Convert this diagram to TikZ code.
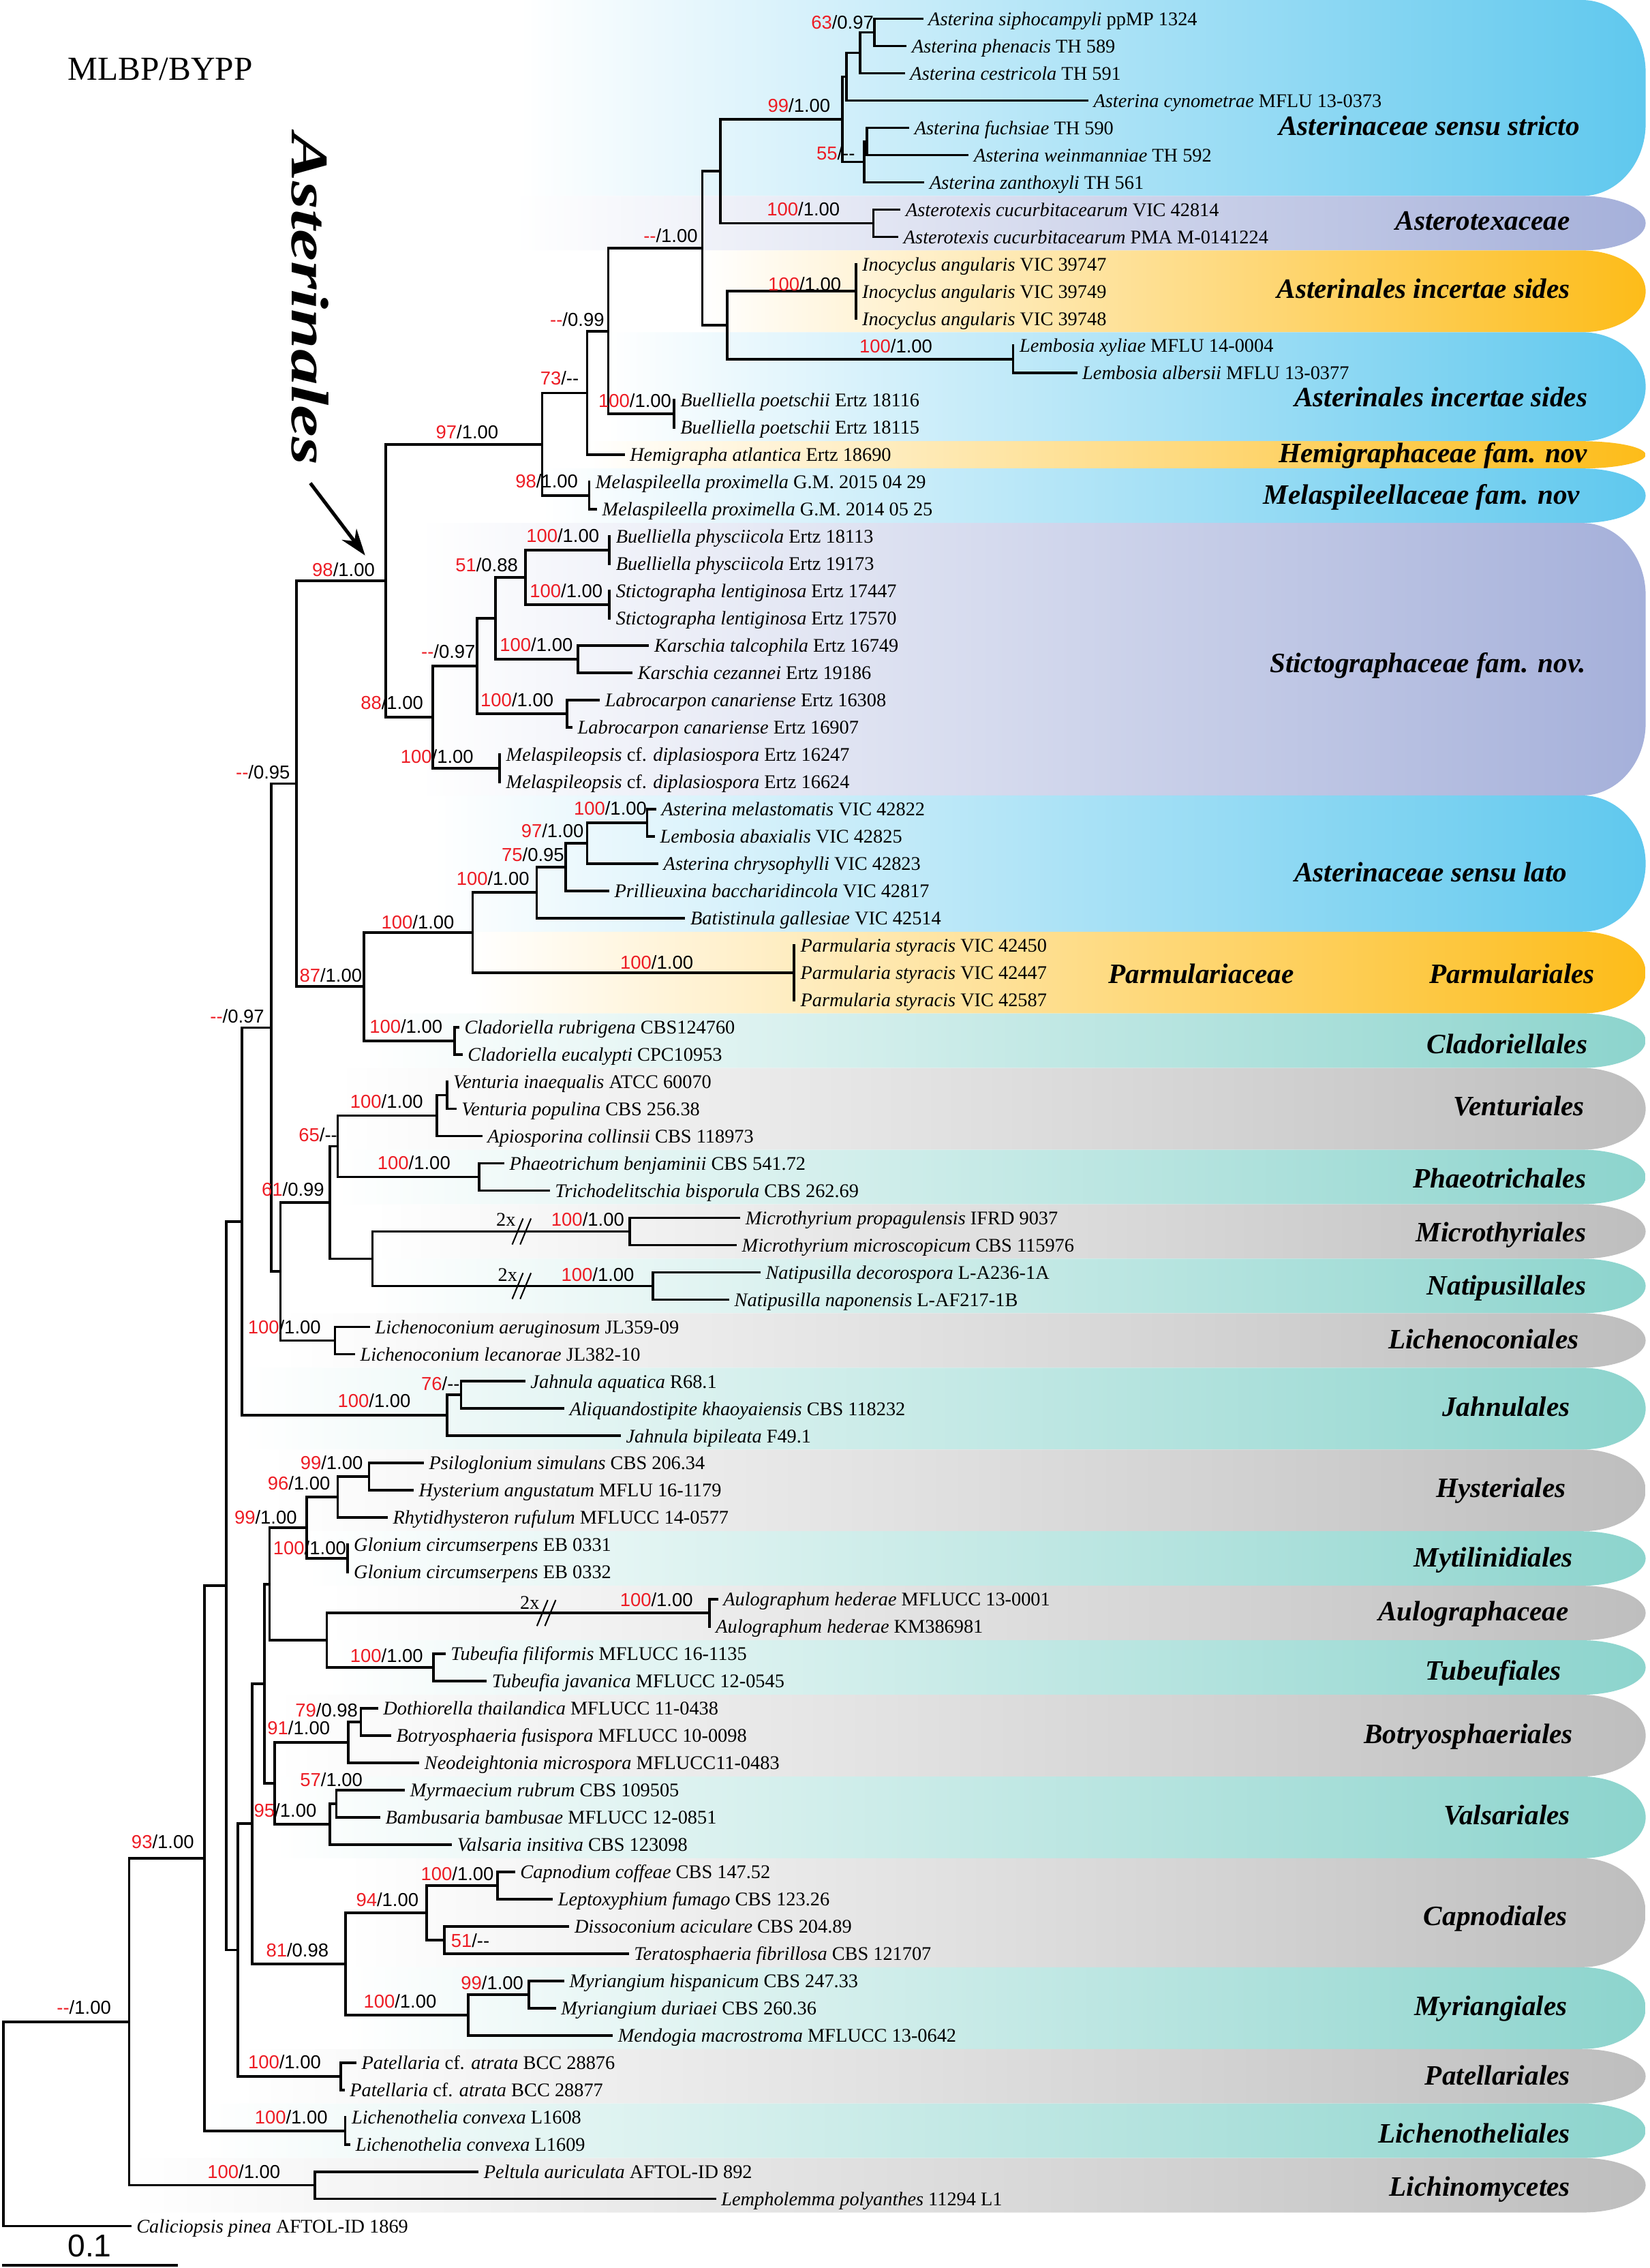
\documentclass[tikz,border=0pt]{standalone}
\usepackage{fontspec}
\setmainfont{Liberation Serif}
\setsansfont{Liberation Sans}
\usetikzlibrary{arrows.meta}

\definecolor{bsred}{HTML}{ED1C24}
\definecolor{bandblue}{HTML}{5FC8EE}
\definecolor{bandlav}{HTML}{A5B0DA}
\definecolor{bandorange}{HTML}{FDBC19}
\definecolor{bandteal}{HTML}{8CD4CD}
\definecolor{bandgrey}{HTML}{BEBEBE}

\begin{document}
\begin{tikzpicture}[x=0.025cm, y=-0.025cm,
  declare function={row(\i)=13+18.84*(\i-1);},
  branch/.style={line width=1.25pt, line cap=rect},
  taxon/.style={anchor=west, inner xsep=3pt, inner ysep=0pt, text height=6.5pt, text depth=0pt, font=\fontsize{9.5}{11}\selectfont},
  bs/.style={anchor=base east, inner sep=0pt, font=\sffamily\fontsize{9.2}{10}\selectfont},
  twox/.style={anchor=base east, inner sep=0pt, font=\fontsize{9.5}{11}\selectfont},
  clade/.style={anchor=east, inner sep=0pt, text height=9pt, text depth=0pt, font=\fontsize{13.8}{15}\selectfont\bfseries\itshape},
  brk/.style={line width=0.7pt}]

\useasboundingbox (0,0) rectangle (1141,1568);

% Clade bands
\foreach \btop/\bbot/\bleft/\bcol in {0.31/7.5/360/bandblue, 7.5/9.5/355/bandlav, 9.5/12.5/485/bandorange,
  12.5/16.5/420/bandblue, 16.5/17.5/406/bandorange, 17.5/19.5/375/bandblue, 19.5/29.5/290/bandlav,
  29.5/34.5/300/bandblue, 34.5/37.5/327/bandorange, 37.5/39.5/252/bandteal, 39.5/42.5/233/bandgrey,
  42.5/44.5/233/bandteal, 44.5/46.5/257/bandgrey, 46.5/48.5/257/bandteal, 48.5/50.5/194/bandgrey,
  50.5/53.5/168/bandteal, 53.5/56.5/186/bandgrey, 56.5/58.5/212/bandteal, 58.5/60.5/226/bandgrey,
  60.5/62.5/226/bandteal, 62.5/65.5/190/bandgrey, 65.5/68.5/190/bandteal, 68.5/72.5/239/bandgrey,
  72.5/75.5/239/bandteal, 75.5/77.5/165/bandgrey, 77.5/79.5/141/bandteal, 79.5/81.5/89/bandgrey}{
  \pgfmathsetmacro\yt{row(\btop)}
  \pgfmathsetmacro\yb{row(\bbot)}
  \pgfmathsetmacro\ry{min(50,(\yb-\yt)/2)}
  \shade[left color=white, right color=\bcol] (\bleft,\yt) -- (1094,\yt)
    .. controls (1118.3,\yt) and (1138,{\yt+0.4477*\ry}) .. (1138,{\yt+\ry}) -- (1138,{\yb-\ry})
    .. controls (1138,{\yb-0.4477*\ry}) and (1118.3,\yb) .. (1094,\yb) -- (\bleft,\yb) -- cycle;
}

% Title
\node[anchor=base west, inner sep=0pt, font=\fontsize{16.5}{18}\selectfont] (title) at (46.7,55.5) {MLBP/BYPP};

% Taxa
\node[taxon] (asiph) at (637.5,{row(1)}) {\textit{Asterina siphocampyli} ppMP 1324};
\node[taxon] (aphen) at (626.1,{row(2)}) {\textit{Asterina phenacis} TH 589};
\node[taxon] (acest) at (624.9,{row(3)}) {\textit{Asterina cestricola} TH 591};
\node[taxon] (acyno) at (751.7,{row(4)}) {\textit{Asterina cynometrae} MFLU 13-0373};
\node[taxon] (afuch) at (627.9,{row(5)}) {\textit{Asterina fuchsiae} TH 590};
\node[taxon] (awein) at (669,{row(6)}) {\textit{Asterina weinmanniae} TH 592};
\node[taxon] (azant) at (638.4,{row(7)}) {\textit{Asterina zanthoxyli} TH 561};
\node[taxon] (atex1) at (621.9,{row(8)}) {\textit{Asterotexis cucurbitacearum} VIC 42814};
\node[taxon] (atex2) at (620.4,{row(9)}) {\textit{Asterotexis cucurbitacearum} PMA M-0141224};
\node[taxon] (ino1) at (591.8,{row(10)}) {\textit{Inocyclus angularis} VIC 39747};
\node[taxon] (ino2) at (591.8,{row(11)}) {\textit{Inocyclus angularis} VIC 39749};
\node[taxon] (ino3) at (591.8,{row(12)}) {\textit{Inocyclus angularis} VIC 39748};
\node[taxon] (lxyl) at (700.6,{row(13)}) {\textit{Lembosia xyliae} MFLU 14-0004};
\node[taxon] (lalb) at (744,{row(14)}) {\textit{Lembosia albersii} MFLU 13-0377};
\node[taxon] (bpoe1) at (466,{row(15)}) {\textit{Buelliella poetschii} Ertz 18116};
\node[taxon] (bpoe2) at (466,{row(16)}) {\textit{Buelliella poetschii} Ertz 18115};
\node[taxon] (hatl) at (431.1,{row(17)}) {\textit{Hemigrapha atlantica} Ertz 18690};
\node[taxon] (mprox1) at (407.4,{row(18)}) {\textit{Melaspileella proximella} G.M. 2015 04 29};
\node[taxon] (mprox2) at (412,{row(19)}) {\textit{Melaspileella proximella} G.M. 2014 05 25};
\node[taxon] (bphy1) at (421.5,{row(20)}) {\textit{Buelliella physciicola} Ertz 18113};
\node[taxon] (bphy2) at (421.5,{row(21)}) {\textit{Buelliella physciicola} Ertz 19173};
\node[taxon] (slen1) at (421.5,{row(22)}) {\textit{Stictographa lentiginosa} Ertz 17447};
\node[taxon] (slen2) at (421.5,{row(23)}) {\textit{Stictographa lentiginosa} Ertz 17570};
\node[taxon] (ktal) at (448,{row(24)}) {\textit{Karschia talcophila} Ertz 16749};
\node[taxon] (kcez) at (436.6,{row(25)}) {\textit{Karschia cezannei} Ertz 19186};
\node[taxon] (lcan1) at (414,{row(26)}) {\textit{Labrocarpon canariense} Ertz 16308};
\node[taxon] (lcan2) at (395,{row(27)}) {\textit{Labrocarpon canariense} Ertz 16907};
\node[taxon] (mdip1) at (345.5,{row(28)}) {\textit{Melaspileopsis} cf. \textit{diplasiospora} Ertz 16247};
\node[taxon] (mdip2) at (345.5,{row(29)}) {\textit{Melaspileopsis} cf. \textit{diplasiospora} Ertz 16624};
\node[taxon] (amel) at (452.9,{row(30)}) {\textit{Asterina melastomatis} VIC 42822};
\node[taxon] (labx) at (452,{row(31)}) {\textit{Lembosia abaxialis} VIC 42825};
\node[taxon] (achr) at (454.4,{row(32)}) {\textit{Asterina chrysophylli} VIC 42823};
\node[taxon] (pbac) at (420.4,{row(33)}) {\textit{Prillieuxina baccharidincola} VIC 42817};
\node[taxon] (bgal) at (473,{row(34)}) {\textit{Batistinula gallesiae} VIC 42514};
\node[taxon] (psty1) at (549.1,{row(35)}) {\textit{Parmularia styracis} VIC 42450};
\node[taxon] (psty2) at (549.1,{row(36)}) {\textit{Parmularia styracis} VIC 42447};
\node[taxon] (psty3) at (549.1,{row(37)}) {\textit{Parmularia styracis} VIC 42587};
\node[taxon] (crub) at (316.7,{row(38)}) {\textit{Cladoriella rubrigena} CBS124760};
\node[taxon] (ceuc) at (319,{row(39)}) {\textit{Cladoriella eucalypti} CPC10953};
\node[taxon] (vina) at (309,{row(40)}) {\textit{Venturia inaequalis} ATCC 60070};
\node[taxon] (vpop) at (314.7,{row(41)}) {\textit{Venturia populina} CBS 256.38};
\node[taxon] (acol) at (332.7,{row(42)}) {\textit{Apiosporina collinsii} CBS 118973};
\node[taxon] (pben) at (347.8,{row(43)}) {\textit{Phaeotrichum benjaminii} CBS 541.72};
\node[taxon] (tbis) at (379.3,{row(44)}) {\textit{Trichodelitschia bisporula} CBS 262.69};
\node[taxon] (mpro) at (511,{row(45)}) {\textit{Microthyrium propagulensis} IFRD 9037};
\node[taxon] (mmic) at (508.6,{row(46)}) {\textit{Microthyrium microscopicum} CBS 115976};
\node[taxon] (ndec) at (525,{row(47)}) {\textit{Natipusilla decorospora} L-A236-1A};
\node[taxon] (nnap) at (503.4,{row(48)}) {\textit{Natipusilla naponensis} L-AF217-1B};
\node[taxon] (laer) at (255,{row(49)}) {\textit{Lichenoconium aeruginosum} JL359-09};
\node[taxon] (llec) at (244.6,{row(50)}) {\textit{Lichenoconium lecanorae} JL382-10};
\node[taxon] (jaqu) at (362.4,{row(51)}) {\textit{Jahnula aquatica} R68.1};
\node[taxon] (akha) at (389.4,{row(52)}) {\textit{Aliquandostipite khaoyaiensis} CBS 118232};
\node[taxon] (jbip) at (428.4,{row(53)}) {\textit{Jahnula bipileata} F49.1};
\node[taxon] (psim) at (292.2,{row(54)}) {\textit{Psiloglonium simulans} CBS 206.34};
\node[taxon] (hang) at (285.2,{row(55)}) {\textit{Hysterium angustatum} MFLU 16-1179};
\node[taxon] (rruf) at (267.2,{row(56)}) {\textit{Rhytidhysteron rufulum} MFLUCC 14-0577};
\node[taxon] (gcir1) at (240.2,{row(57)}) {\textit{Glonium circumserpens} EB 0331};
\node[taxon] (gcir2) at (240.2,{row(58)}) {\textit{Glonium circumserpens} EB 0332};
\node[taxon] (ahed1) at (495.7,{row(59)}) {\textit{Aulographum hederae} MFLUCC 13-0001};
\node[taxon] (ahed2) at (490.5,{row(60)}) {\textit{Aulographum hederae} KM386981};
\node[taxon] (tfil) at (307.2,{row(61)}) {\textit{Tubeufia filiformis} MFLUCC 16-1135};
\node[taxon] (tjav) at (335.7,{row(62)}) {\textit{Tubeufia javanica} MFLUCC 12-0545};
\node[taxon] (dtha) at (260.6,{row(63)}) {\textit{Dothiorella thailandica} MFLUCC 11-0438};
\node[taxon] (bfus) at (269.6,{row(64)}) {\textit{Botryosphaeria fusispora} MFLUCC 10-0098};
\node[taxon] (nmic) at (289.1,{row(65)}) {\textit{Neodeightonia microspora} MFLUCC11-0483};
\node[taxon] (mrub) at (279.2,{row(66)}) {\textit{Myrmaecium rubrum} CBS 109505};
\node[taxon] (bbam) at (262.1,{row(67)}) {\textit{Bambusaria bambusae} MFLUCC 12-0851};
\node[taxon] (vins) at (311.7,{row(68)}) {\textit{Valsaria insitiva} CBS 123098};
\node[taxon] (ccof) at (355.3,{row(69)}) {\textit{Capnodium coffeae} CBS 147.52};
\node[taxon] (lfum) at (381.4,{row(70)}) {\textit{Leptoxyphium fumago} CBS 123.26};
\node[taxon] (dacic) at (392.8,{row(71)}) {\textit{Dissoconium aciculare} CBS 204.89};
\node[taxon] (tfib) at (434,{row(72)}) {\textit{Teratosphaeria fibrillosa} CBS 121707};
\node[taxon] (mhis) at (389.3,{row(73)}) {\textit{Myriangium hispanicum} CBS 247.33};
\node[taxon] (mdur) at (383.5,{row(74)}) {\textit{Myriangium duriaei} CBS 260.36};
\node[taxon] (mmac) at (422.9,{row(75)}) {\textit{Mendogia macrostroma} MFLUCC 13-0642};
\node[taxon] (patr1) at (245.6,{row(76)}) {\textit{Patellaria} cf. \textit{atrata} BCC 28876};
\node[taxon] (patr2) at (237.4,{row(77)}) {\textit{Patellaria} cf. \textit{atrata} BCC 28877};
\node[taxon] (lcon1) at (238.7,{row(78)}) {\textit{Lichenothelia convexa} L1608};
\node[taxon] (lcon2) at (241.4,{row(79)}) {\textit{Lichenothelia convexa} L1609};
\node[taxon] (paur) at (330,{row(80)}) {\textit{Peltula auriculata} AFTOL-ID 892};
\node[taxon] (lpol) at (494.3,{row(81)}) {\textit{Lempholemma polyanthes} 11294 L1};
\node[taxon] (cpin) at (89.9,{row(82)}) {\textit{Caliciopsis pinea} AFTOL-ID 1869};

% Internal nodes
\coordinate (siphphen) at (604.7,{row(1.5)});
\coordinate (siphcest) at (594.8,{row(2.25)});
\coordinate (siphcyno) at (585.2,{row(3.125)});
\coordinate (fuchwein) at (599.4,{row(5.5)});
\coordinate (fuchzant) at (597.6,{row(6.25)});
\coordinate (asterina) at (582.5,{row(4.6875)});
\coordinate (asterotex) at (604,{row(8.5)});
\coordinate (asterinaceae) at (498,{row(6.59375)});
\coordinate (inocyclus) at (591.8,{row(11)});
\coordinate (lembosia) at (700.6,{row(13.5)});
\coordinate (incertae) at (503,{row(12.25)});
\coordinate (astcore) at (485.7,{row(9.421875)});
\coordinate (poetschii) at (466,{row(15.5)});
\coordinate (astpoet) at (420.6,{row(12.4609)});
\coordinate (asthemi) at (406,{row(14.7305)});
\coordinate (melaspil) at (407.4,{row(18.5)});
\coordinate (astmel) at (374.9,{row(16.6152)});
\coordinate (physciicola) at (421.5,{row(20.5)});
\coordinate (stictographa) at (421.5,{row(22.5)});
\coordinate (buelsti) at (363.5,{row(21.5)});
\coordinate (karschia) at (399.6,{row(24.5)});
\coordinate (buelkar) at (342.5,{row(23)});
\coordinate (labrocarpon) at (392.1,{row(26.5)});
\coordinate (buellab) at (329.9,{row(24.75)});
\coordinate (melaspileopsis) at (345.5,{row(28.5)});
\coordinate (stictograph) at (299.2,{row(26.625)});
\coordinate (asterinales) at (266.7,{row(21.6201)});
\coordinate (amellabx) at (447.5,{row(30.5)});
\coordinate (amelachr) at (406,{row(31.25)});
\coordinate (amelpbac) at (391.3,{row(32.125)});
\coordinate (asl) at (371.1,{row(33.0625)});
\coordinate (parmularia) at (549.1,{row(36)});
\coordinate (parmulariales) at (326.9,{row(34.53125)});
\coordinate (cladoriella) at (314.4,{row(38.5)});
\coordinate (parmclad) at (251.8,{row(36.5156)});
\coordinate (asterclade) at (204.9,{row(29.0679)});
\coordinate (venturia) at (309,{row(40.5)});
\coordinate (venturiales) at (302.1,{row(41.25)});
\coordinate (phaeotrich) at (331.2,{row(43.5)});
\coordinate (ventphae) at (233.5,{row(42.375)});
\coordinate (microthyr) at (435.5,{row(45.5)});
\coordinate (natipus) at (451.5,{row(47.5)});
\coordinate (micnat) at (257.6,{row(46.5)});
\coordinate (ventmic) at (228.1,{row(44.4375)});
\coordinate (lichenocon) at (231.6,{row(49.5)});
\coordinate (ventlich) at (194,{row(46.96875)});
\coordinate (upperdoth) at (187.6,{row(38.0183)});
\coordinate (jaqakha) at (318.8,{row(51.5)});
\coordinate (jahnulales) at (309.2,{row(52.25)});
\coordinate (dothjah) at (167.4,{row(45.1342)});
\coordinate (psihan) at (255.2,{row(54.5)});
\coordinate (hysteriales) at (233.5,{row(55.25)});
\coordinate (glonium) at (240.2,{row(57.5)});
\coordinate (hystmyt) at (212.2,{row(56.375)});
\coordinate (aulograph) at (490.5,{row(59.5)});
\coordinate (tubeufia) at (299.6,{row(61.5)});
\coordinate (aultub) at (226,{row(60.5)});
\coordinate (hysaul) at (186.4,{row(58.4375)});
\coordinate (dotbot) at (249.5,{row(63.5)});
\coordinate (botryo) at (241,{row(64.25)});
\coordinate (myrbam) at (232.6,{row(66.5)});
\coordinate (valsariales) at (228.1,{row(67.25)});
\coordinate (botval) at (190,{row(65.75)});
\coordinate (hysbot) at (183,{row(62.09375)});
\coordinate (capnodium) at (343.9,{row(69.5)});
\coordinate (dissoc) at (307.2,{row(71.5)});
\coordinate (capnodiales) at (295.2,{row(70.5)});
\coordinate (myriangium) at (365.8,{row(73.5)});
\coordinate (myriangiales) at (323.7,{row(74.25)});
\coordinate (capmyr) at (239,{row(72.375)});
\coordinate (hyscap) at (174.4,{row(67.2344)});
\coordinate (patellaria) at (235.7,{row(76.5)});
\coordinate (hyspat) at (164.5,{row(71.8672)});
\coordinate (dothideo) at (156.3,{row(58.5007)});
\coordinate (lichenoth) at (238.7,{row(78.5)});
\coordinate (dothlth) at (141.3,{row(68.5003)});
\coordinate (lichino) at (217.6,{row(80.5)});
\coordinate (ingroup) at (89.3,{row(74.5002)});
\coordinate (root) at (2.3,{row(78.2501)});

% Branches
\draw[branch] (root) |- (ingroup) (root) |- (cpin.west);
\draw[branch] (ingroup) |- (dothlth) (ingroup) |- (lichino);
\draw[branch] (lichino) |- (paur.west) (lichino) |- (lpol.west);
\draw[branch] (dothlth) |- (dothideo) (dothlth) |- (lichenoth);
\draw[branch] (lichenoth) |- (lcon1.west) (lichenoth) |- (lcon2.west);
\draw[branch] (dothideo) |- (dothjah) (dothideo) |- (hyspat);
\draw[branch] (hyspat) |- (hyscap) (hyspat) |- (patellaria);
\draw[branch] (patellaria) |- (patr1.west) (patellaria) |- (patr2.west);
\draw[branch] (hyscap) |- (hysbot) (hyscap) |- (capmyr);
\draw[branch] (capmyr) |- (capnodiales) (capmyr) |- (myriangiales);
\draw[branch] (capnodiales) |- (capnodium) (capnodiales) |- (dissoc);
\draw[branch] (capnodium) |- (ccof.west) (capnodium) |- (lfum.west);
\draw[branch] (dissoc) |- (dacic.west) (dissoc) |- (tfib.west);
\draw[branch] (myriangiales) |- (myriangium) (myriangiales) |- (mmac.west);
\draw[branch] (myriangium) |- (mhis.west) (myriangium) |- (mdur.west);
\draw[branch] (hysbot) |- (hysaul) (hysbot) |- (botval);
\draw[branch] (botval) |- (botryo) (botval) |- (valsariales);
\draw[branch] (botryo) |- (dotbot) (botryo) |- (nmic.west);
\draw[branch] (dotbot) |- (dtha.west) (dotbot) |- (bfus.west);
\draw[branch] (valsariales) |- (myrbam) (valsariales) |- (vins.west);
\draw[branch] (myrbam) |- (mrub.west) (myrbam) |- (bbam.west);
\draw[branch] (hysaul) |- (hystmyt) (hysaul) |- (aultub);
\draw[branch] (hystmyt) |- (hysteriales) (hystmyt) |- (glonium);
\draw[branch] (hysteriales) |- (psihan) (hysteriales) |- (rruf.west);
\draw[branch] (psihan) |- (psim.west) (psihan) |- (hang.west);
\draw[branch] (glonium) |- (gcir1.west) (glonium) |- (gcir2.west);
\draw[branch] (aultub) |- (aulograph) (aultub) |- (tubeufia);
\draw[branch] (aulograph) |- (ahed1.west) (aulograph) |- (ahed2.west);
\draw[branch] (tubeufia) |- (tfil.west) (tubeufia) |- (tjav.west);
\draw[branch] (dothjah) |- (upperdoth) (dothjah) |- (jahnulales);
\draw[branch] (jahnulales) |- (jaqakha) (jahnulales) |- (jbip.west);
\draw[branch] (jaqakha) |- (jaqu.west) (jaqakha) |- (akha.west);
\draw[branch] (upperdoth) |- (asterclade) (upperdoth) |- (ventlich);
\draw[branch] (ventlich) |- (ventmic) (ventlich) |- (lichenocon);
\draw[branch] (lichenocon) |- (laer.west) (lichenocon) |- (llec.west);
\draw[branch] (ventmic) |- (ventphae) (ventmic) |- (micnat);
\draw[branch] (micnat) |- (microthyr) (micnat) |- (natipus);
\draw[branch] (microthyr) |- (mpro.west) (microthyr) |- (mmic.west);
\draw[branch] (natipus) |- (ndec.west) (natipus) |- (nnap.west);
\draw[branch] (ventphae) |- (venturiales) (ventphae) |- (phaeotrich);
\draw[branch] (venturiales) |- (venturia) (venturiales) |- (acol.west);
\draw[branch] (venturia) |- (vina.west) (venturia) |- (vpop.west);
\draw[branch] (phaeotrich) |- (pben.west) (phaeotrich) |- (tbis.west);
\draw[branch] (asterclade) |- (asterinales) (asterclade) |- (parmclad);
\draw[branch] (parmclad) |- (parmulariales) (parmclad) |- (cladoriella);
\draw[branch] (cladoriella) |- (crub.west) (cladoriella) |- (ceuc.west);
\draw[branch] (parmulariales) |- (asl) (parmulariales) |- (parmularia);
\draw[branch] (parmularia) |- (psty1.west) (parmularia) |- (psty2.west) (parmularia) |- (psty3.west);
\draw[branch] (asl) |- (amelpbac) (asl) |- (bgal.west);
\draw[branch] (amelpbac) |- (amelachr) (amelpbac) |- (pbac.west);
\draw[branch] (amelachr) |- (amellabx) (amelachr) |- (achr.west);
\draw[branch] (amellabx) |- (amel.west) (amellabx) |- (labx.west);
\draw[branch] (asterinales) |- (astmel) (asterinales) |- (stictograph);
\draw[branch] (stictograph) |- (buellab) (stictograph) |- (melaspileopsis);
\draw[branch] (melaspileopsis) |- (mdip1.west) (melaspileopsis) |- (mdip2.west);
\draw[branch] (buellab) |- (buelkar) (buellab) |- (labrocarpon);
\draw[branch] (labrocarpon) |- (lcan1.west) (labrocarpon) |- (lcan2.west);
\draw[branch] (buelkar) |- (buelsti) (buelkar) |- (karschia);
\draw[branch] (karschia) |- (ktal.west) (karschia) |- (kcez.west);
\draw[branch] (buelsti) |- (physciicola) (buelsti) |- (stictographa);
\draw[branch] (physciicola) |- (bphy1.west) (physciicola) |- (bphy2.west);
\draw[branch] (stictographa) |- (slen1.west) (stictographa) |- (slen2.west);
\draw[branch] (astmel) |- (asthemi) (astmel) |- (melaspil);
\draw[branch] (melaspil) |- (mprox1.west) (melaspil) |- (mprox2.west);
\draw[branch] (asthemi) |- (astpoet) (asthemi) |- (hatl.west);
\draw[branch] (astpoet) |- (astcore) (astpoet) |- (poetschii);
\draw[branch] (poetschii) |- (bpoe1.west) (poetschii) |- (bpoe2.west);
\draw[branch] (astcore) |- (asterinaceae) (astcore) |- (incertae);
\draw[branch] (incertae) |- (inocyclus) (incertae) |- (lembosia);
\draw[branch] (inocyclus) |- (ino1.west) (inocyclus) |- (ino2.west) (inocyclus) |- (ino3.west);
\draw[branch] (lembosia) |- (lxyl.west) (lembosia) |- (lalb.west);
\draw[branch] (asterinaceae) |- (asterina) (asterinaceae) |- (asterotex);
\draw[branch] (asterotex) |- (atex1.west) (asterotex) |- (atex2.west);
\draw[branch] (asterina) |- (siphcyno) (asterina) |- (fuchzant);
\draw[branch] (siphcyno) |- (siphcest) (siphcyno) |- (acyno.west);
\draw[branch] (siphcest) |- (siphphen) (siphcest) |- (acest.west);
\draw[branch] (siphphen) |- (asiph.west) (siphphen) |- (aphen.west);
\draw[branch] (fuchzant) |- (fuchwein) (fuchzant) |- (azant.west);
\draw[branch] (fuchwein) |- (afuch.west) (fuchwein) |- (awein.west);

% Shortened branches
\coordinate (micbrk) at (360.7,{row(45.5)});
\coordinate (natbrk) at (360.7,{row(47.5)});
\coordinate (aulbrk) at (377.8,{row(59.5)});
\draw[brk] (micbrk) ++(-6.5,9) -- ++(7.5,-18) (micbrk) ++(-1,9) -- ++(7.5,-18);
\draw[brk] (natbrk) ++(-6.5,9) -- ++(7.5,-18) (natbrk) ++(-1,9) -- ++(7.5,-18);
\draw[brk] (aulbrk) ++(-6.5,9) -- ++(7.5,-18) (aulbrk) ++(-1,9) -- ++(7.5,-18);
\node[twox] (micbrk-lab) at (356.8,847.6) {2x};
\node[twox] (natbrk-lab) at (358,886) {2x};
\node[twox] (aulbrk-lab) at (373.3,1112.3) {2x};

% Support values
\node[bs] (siphphen-bs) at (604.4,20.2) {\textcolor{bsred}{63}/0.97};
\node[bs] (asterina-bs) at (574.4,77.4) {\textcolor{bsred}{99}/1.00};
\node[bs] (fuchzant-bs) at (591.5,110.3) {\textcolor{bsred}{55}/-{}-};
\node[bs] (asterotex-bs) at (581,149) {\textcolor{bsred}{100}/1.00};
\node[bs] (astcore-bs) at (482.7,167.5) {\textcolor{bsred}{-{}-}/1.00};
\node[bs] (inocyclus-bs) at (581.9,201.1) {\textcolor{bsred}{100}/1.00};
\node[bs] (astpoet-bs) at (418.1,225.6) {\textcolor{bsred}{-{}-}/0.99};
\node[bs] (lembosia-bs) at (645,244.1) {\textcolor{bsred}{100}/1.00};
\node[bs] (asthemi-bs) at (400.5,266.1) {\textcolor{bsred}{73}/-{}-};
\node[bs] (poetschii-bs) at (464.5,281.5) {\textcolor{bsred}{100}/1.00};
\node[bs] (astmel-bs) at (344.9,303.3) {\textcolor{bsred}{97}/1.00};
\node[bs] (melaspil-bs) at (399.9,337.4) {\textcolor{bsred}{98}/1.00};
\node[bs] (physciicola-bs) at (414.6,374.7) {\textcolor{bsred}{100}/1.00};
\node[bs] (buelsti-bs) at (358.4,395.2) {\textcolor{bsred}{51}/0.88};
\node[bs] (stictographa-bs) at (417,412.9) {\textcolor{bsred}{100}/1.00};
\node[bs] (buellab-bs) at (329,454.8) {\textcolor{bsred}{-{}-}/0.97};
\node[bs] (karschia-bs) at (396.3,450.2) {\textcolor{bsred}{100}/1.00};
\node[bs] (stictograph-bs) at (292.9,490.2) {\textcolor{bsred}{88}/1.00};
\node[bs] (labrocarpon-bs) at (383,488.4) {\textcolor{bsred}{100}/1.00};
\node[bs] (melaspileopsis-bs) at (327.7,527.5) {\textcolor{bsred}{100}/1.00};
\node[bs] (asterinales-bs) at (259.4,398.5) {\textcolor{bsred}{98}/1.00};
\node[bs] (amellabx-bs) at (447.5,563.2) {\textcolor{bsred}{100}/1.00};
\node[bs] (amelachr-bs) at (403.9,578.9) {\textcolor{bsred}{97}/1.00};
\node[bs] (amelpbac-bs) at (390.4,595.4) {\textcolor{bsred}{75}/0.95};
\node[bs] (asl-bs) at (366.3,611.9) {\textcolor{bsred}{100}/1.00};
\node[bs] (parmulariales-bs) at (314.4,642.2) {\textcolor{bsred}{100}/1.00};
\node[bs] (parmularia-bs) at (479.6,670) {\textcolor{bsred}{100}/1.00};
\node[bs] (parmclad-bs) at (250.6,678.7) {\textcolor{bsred}{87}/1.00};
\node[bs] (cladoriella-bs) at (306.2,714) {\textcolor{bsred}{100}/1.00};
\node[bs] (upperdoth-bs) at (183,707) {\textcolor{bsred}{-{}-}/0.97};
\node[bs] (asterclade-bs) at (200.8,538.6) {\textcolor{bsred}{-{}-}/0.95};
\node[bs] (venturia-bs) at (292.8,765.9) {\textcolor{bsred}{100}/1.00};
\node[bs] (ventphae-bs) at (233.5,789.4) {\textcolor{bsred}{65}/-{}-};
\node[bs] (phaeotrich-bs) at (311.7,808.3) {\textcolor{bsred}{100}/1.00};
\node[bs] (ventmic-bs) at (224.5,827.1) {\textcolor{bsred}{61}/0.99};
\node[bs] (microthyr-bs) at (431.9,847.6) {\textcolor{bsred}{100}/1.00};
\node[bs] (natipus-bs) at (438.8,885.8) {\textcolor{bsred}{100}/1.00};
\node[bs] (lichenocon-bs) at (222.1,922.2) {\textcolor{bsred}{100}/1.00};
\node[bs] (jaqakha-bs) at (318.2,961.1) {\textcolor{bsred}{76}/-{}-};
\node[bs] (jahnulales-bs) at (284.2,973.2) {\textcolor{bsred}{100}/1.00};
\node[bs] (psihan-bs) at (251.2,1015.7) {\textcolor{bsred}{99}/1.00};
\node[bs] (hysteriales-bs) at (228.6,1029.8) {\textcolor{bsred}{96}/1.00};
\node[bs] (hystmyt-bs) at (205.6,1053.4) {\textcolor{bsred}{99}/1.00};
\node[bs] (glonium-bs) at (239.6,1074.6) {\textcolor{bsred}{100}/1.00};
\node[bs] (aulograph-bs) at (479.4,1110.4) {\textcolor{bsred}{100}/1.00};
\node[bs] (tubeufia-bs) at (292.8,1149.2) {\textcolor{bsred}{100}/1.00};
\node[bs] (dotbot-bs) at (247.7,1186.9) {\textcolor{bsred}{79}/0.98};
\node[bs] (botryo-bs) at (228.4,1199.4) {\textcolor{bsred}{91}/1.00};
\node[bs] (myrbam-bs) at (251,1235.1) {\textcolor{bsred}{57}/1.00};
\node[bs] (valsariales-bs) at (219.1,1256) {\textcolor{bsred}{95}/1.00};
\node[bs] (capnodium-bs) at (341.7,1300) {\textcolor{bsred}{100}/1.00};
\node[bs] (capnodiales-bs) at (289.7,1318.1) {\textcolor{bsred}{94}/1.00};
\node[bs] (dissoc-bs) at (338.8,1346.4) {\textcolor{bsred}{51}/-{}-};
\node[bs] (capmyr-bs) at (227.5,1353) {\textcolor{bsred}{81}/0.98};
\node[bs] (myriangium-bs) at (362.2,1375.4) {\textcolor{bsred}{99}/1.00};
\node[bs] (myriangiales-bs) at (302.1,1388) {\textcolor{bsred}{100}/1.00};
\node[bs] (ingroup-bs) at (77,1392.4) {\textcolor{bsred}{-{}-}/1.00};
\node[bs] (patellaria-bs) at (222.2,1430.2) {\textcolor{bsred}{100}/1.00};
\node[bs] (lichenoth-bs) at (226.8,1468.2) {\textcolor{bsred}{100}/1.00};
\node[bs] (lichino-bs) at (194.1,1506) {\textcolor{bsred}{100}/1.00};
\node[bs] (dothlth-bs) at (134.4,1278) {\textcolor{bsred}{93}/1.00};

% Clade names
\node[clade] (cl-aststr) at (1092.7,87.3) {Asterinaceae sensu stricto};
\node[clade] (cl-asterotex) at (1086,152.5) {Asterotexaceae};
\node[clade] (cl-incsed1) at (1086,199.9) {Asterinales incertae sides};
\node[clade] (cl-incsed2) at (1098,274.6) {Asterinales incertae sides};
\node[clade] (cl-hemi) at (1098,313.5) {Hemigraphaceae fam. nov};
\node[clade] (cl-melasp) at (1092.7,342) {Melaspileellaceae fam. nov};
\node[clade] (cl-sticto) at (1097,458.4) {Stictographaceae fam. nov.};
\node[clade] (cl-astlat) at (1084,603.2) {Asterinaceae sensu lato};
\node[clade] (cl-parmfam) at (895,673.5) {Parmulariaceae};
\node[clade] (cl-parmord) at (1103,673.5) {Parmulariales};
\node[clade] (cl-clad) at (1098,722) {Cladoriellales};
\node[clade] (cl-vent) at (1096,765) {Venturiales};
\node[clade] (cl-phae) at (1097,815) {Phaeotrichales};
\node[clade] (cl-micro) at (1097,852) {Microthyriales};
\node[clade] (cl-nati) at (1097,889) {Natipusillales};
\node[clade] (cl-lico) at (1092,926) {Lichenoconiales};
\node[clade] (cl-jahn) at (1086,973) {Jahnulales};
\node[clade] (cl-hyst) at (1083,1029) {Hysteriales};
\node[clade] (cl-myti) at (1088,1077) {Mytilinidiales};
\node[clade] (cl-aulo) at (1085,1114) {Aulographaceae};
\node[clade] (cl-tube) at (1080,1155) {Tubeufiales};
\node[clade] (cl-botr) at (1088,1199) {Botryosphaeriales};
\node[clade] (cl-vals) at (1086,1255) {Valsariales};
\node[clade] (cl-capn) at (1084,1325) {Capnodiales};
\node[clade] (cl-myri) at (1084,1387) {Myriangiales};
\node[clade] (cl-pate) at (1086,1435) {Patellariales};
\node[clade] (cl-lith) at (1086,1475) {Lichenotheliales};
\node[clade] (cl-lchm) at (1086,1512) {Lichinomycetes};

% Order label and arrow
\node[rotate=-90, anchor=base west, inner sep=0pt] (ordername) at (202,92)
  {\scalebox{1.36}[1]{\fontsize{26}{26}\selectfont\bfseries\itshape Asterinales}};
\coordinate (arrowtail) at (214.6,334);
\coordinate (arrowhead) at (252.5,384);
\draw[-{Stealth[length=13pt,width=9pt]}, line width=1.7pt] (arrowtail) -- (arrowhead);

% Scale bar
\coordinate (sb0) at (2.3,1566);
\coordinate (sb1) at (122.3,1566);
\draw[branch] (sb0) -- (sb1);
\node[anchor=base, inner sep=0pt, font=\sffamily\fontsize{15.5}{17}\selectfont] (sblab) at (62,1560) {0.1};
\end{tikzpicture}
\end{document}
